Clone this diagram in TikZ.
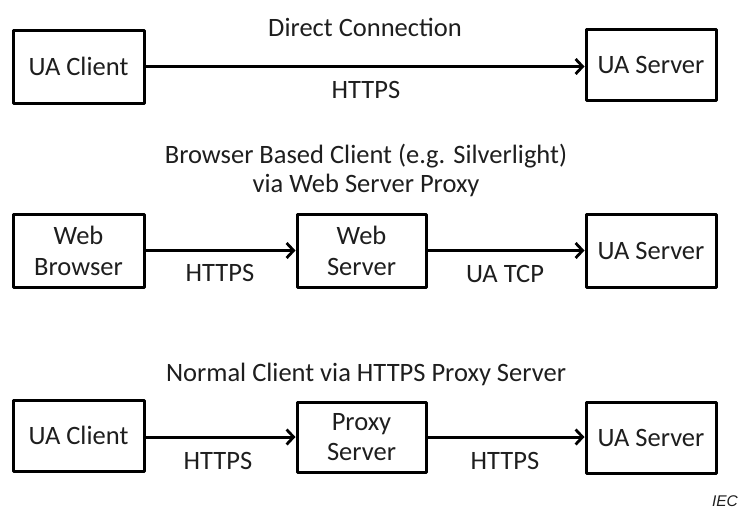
\documentclass[tikz,border=0pt]{standalone}
\usepackage{fontspec}
\setmainfont{Carlito}
\newfontfamily\tagfont{Liberation Sans}
\usetikzlibrary{arrows.meta}
\definecolor{ink}{HTML}{1E1E1E}
\begin{document}
\begin{tikzpicture}[x=1pt,y=-1pt,
  box/.style={draw=black,line width=3pt,line join=round,fill=white,
    inner sep=0pt,align=center,text=ink,font=\fontsize{26.5}{31}\selectfont},
  link/.style={line width=3pt,-{Straight Barb[length=7pt,width=15pt,line width=2.8pt]}},
  lbl/.style={text=ink,font=\fontsize{26.5}{31}\selectfont,inner sep=0pt},
  heading/.style={text=ink,font=\fontsize{26.5}{31}\selectfont,inner sep=0pt,align=center}]
\useasboundingbox (0,0) rectangle (740,509);

% direct connection
\node[heading] (t1) at (365,27) {Direct Connection};
\node[box,minimum width=131pt,minimum height=73pt] (c1) at (78.5,66.5) {UA Client};
\node[box,minimum width=130pt,minimum height=71pt] (s1) at (651,64.5) {UA Server};
\draw[link] (c1.east) -- (s1.west |- c1.east);
\node[lbl] (h1) at (366,90) {HTTPS};

% browser client through a web server proxy
\node[heading] (t2) at (366,170) {Browser Based Client (e.g. Silverlight)\\[-2pt]via Web Server Proxy};
\node[box,minimum width=131pt,minimum height=73pt] (wb) at (78.5,250.5) {Web\\[0pt]Browser};
\node[box,minimum width=129pt,minimum height=73pt] (ws) at (361.5,250.5) {Web\\[0pt]Server};
\node[box,minimum width=130pt,minimum height=73pt] (s2) at (651,250.5) {UA Server};
\draw[link] (wb.east) -- (ws.west);
\draw[link] (ws.east) -- (s2.west);
\node[lbl] (h2) at (220,273) {HTTPS};
\node[lbl] (u2) at (505,274) {UA TCP};

% normal client through an HTTPS proxy
\node[heading] (t3) at (366,374) {Normal Client via HTTPS Proxy Server};
\node[box,minimum width=131pt,minimum height=71pt] (c3) at (78.5,435.5) {UA Client};
\node[box,minimum width=129pt,minimum height=70pt] (px) at (361.5,437) {Proxy\\[-1pt]Server};
\node[box,minimum width=130pt,minimum height=71pt] (s3) at (651,437.5) {UA Server};
\draw[link] (c3.east |- px.west) -- (px.west);
\draw[link] (px.east) -- (s3.west |- px.east);
\node[lbl] (h3) at (218,461) {HTTPS};
\node[lbl] (h4) at (505,461) {HTTPS};

\node[text=ink,font=\tagfont\itshape\fontsize{15.5}{18}\selectfont,inner sep=0pt] (iec) at (725,501) {IEC};
\end{tikzpicture}
\end{document}
